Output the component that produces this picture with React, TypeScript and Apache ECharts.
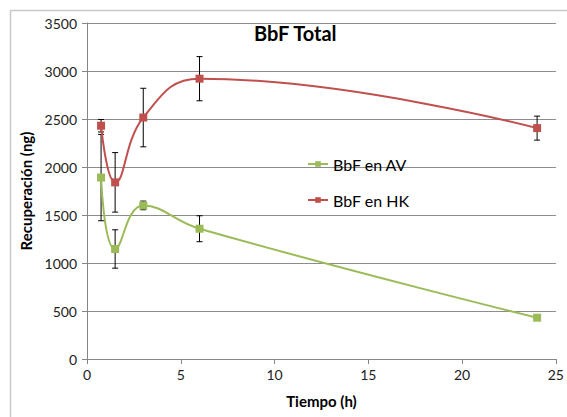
import { useEffect, useRef } from "react";
import * as echarts from "echarts";

// Sampling times (h) and recovered BbF (ng) with their standard deviations
const tiempo = [0.75, 1.5, 3, 6, 24];
const bbfAV = [1890, 1146, 1600, 1357, 430];
const errAV = [450, 200, 45, 135, 0];
const bbfHK = [2430, 1840, 2515, 2920, 2405];
const errHK = [65, 310, 305, 230, 125];

const xTicks = { min: 0, max: 25, interval: 5 };
const yTicks = { min: 0, max: 3500, interval: 500 };

const FONT = "Lato, 'Noto Sans', sans-serif";
const GREEN = "#9BBB59";
const RED = "#C0504D";

function errorData(vals: number[], errs: number[]) {
  return tiempo
    .map((t, i) => [t, vals[i] - errs[i], vals[i] + errs[i]])
    .filter((_, i) => errs[i] > 0);
}

function renderErrorBar(_params: any, api: any) {
  const x = api.value(0);
  const top = api.coord([x, api.value(2)]);
  const bot = api.coord([x, api.value(1)]);
  const w = 3;
  const style = { stroke: "#000", lineWidth: 1 };
  return {
    type: "group",
    children: [
      { type: "line", shape: { x1: top[0], y1: top[1], x2: bot[0], y2: bot[1] }, style },
      { type: "line", shape: { x1: top[0] - w, y1: top[1], x2: top[0] + w, y2: top[1] }, style },
      { type: "line", shape: { x1: bot[0] - w, y1: bot[1], x2: bot[0] + w, y2: bot[1] }, style },
    ],
  };
}

export default function App() {
  const ref = useRef<HTMLDivElement>(null);

  useEffect(() => {
    document.body.style.margin = "0";
    if (!ref.current) return;
    const chart = echarts.init(ref.current, undefined, { renderer: "svg" });
    chart.setOption({
      animation: false,
      backgroundColor: "#fff",
      textStyle: { fontFamily: FONT },
      title: {
        text: "BbF Total",
        left: 249,
        top: 18,
        textStyle: { fontFamily: FONT, fontSize: 20, fontWeight: "bold", color: "#000" },
      },
      legend: {
        orient: "vertical",
        left: 302,
        top: 151,
        itemGap: 20,
        itemWidth: 20,
        itemHeight: 7,
        data: ["BbF en AV", "BbF en HK"],
        textStyle: { fontFamily: FONT, fontSize: 16, color: "#000" },
      },
      graphic: [
        {
          type: "rect",
          shape: { x: 10.5, y: 10.5, width: 700, height: 600 },
          style: { fill: "none", stroke: "#c8c8c8", lineWidth: 1.5 },
          silent: true,
          z: -1,
        },
      ],
      grid: { left: 87, right: 11, top: 23, bottom: 58 },
      xAxis: {
        type: "value",
        ...xTicks,
        name: "Tiempo (h)",
        nameLocation: "middle",
        nameGap: 34,
        nameTextStyle: { fontFamily: FONT, fontSize: 15, fontWeight: "bold", color: "#000" },
        axisLine: { show: true, lineStyle: { color: "#868686" } },
        axisTick: { show: true, length: 5, lineStyle: { color: "#868686" } },
        axisLabel: { fontFamily: FONT, fontSize: 14, color: "#222", margin: 8 },
        splitLine: { show: false },
      },
      yAxis: {
        type: "value",
        ...yTicks,
        name: "Recuperación (ng)",
        nameLocation: "middle",
        nameGap: 38,
        nameRotate: 90,
        nameTextStyle: { fontFamily: FONT, fontSize: 15, fontWeight: "bold", color: "#000" },
        axisLine: { show: true, lineStyle: { color: "#868686" } },
        axisTick: { show: true, length: 5, lineStyle: { color: "#868686" } },
        axisLabel: {
          fontFamily: FONT,
          fontSize: 14,
          color: "#222",
          margin: 10,
          formatter: (v: number) => String(v),
        },
        splitLine: { show: true, lineStyle: { color: "#8c8c8c", width: 1 } },
      },
      series: [
        {
          type: "custom",
          name: "errAV",
          renderItem: renderErrorBar,
          data: errorData(bbfAV, errAV),
          z: 1,
          silent: true,
        },
        {
          type: "custom",
          name: "errHK",
          renderItem: renderErrorBar,
          data: errorData(bbfHK, errHK),
          z: 1,
          silent: true,
        },
        {
          type: "line",
          name: "BbF en AV",
          data: tiempo.map((t, i) => [t, bbfAV[i]]),
          smooth: 0.45,
          symbol: "rect",
          symbolSize: 8,
          itemStyle: { color: GREEN },
          lineStyle: { color: GREEN, width: 2 },
          z: 3,
        },
        {
          type: "line",
          name: "BbF en HK",
          data: tiempo.map((t, i) => [t, bbfHK[i]]),
          smooth: 0.45,
          symbol: "rect",
          symbolSize: 8,
          itemStyle: { color: RED },
          lineStyle: { color: RED, width: 2 },
          z: 3,
        },
      ],
    });
    return () => chart.dispose();
  }, []);

  return <div ref={ref} style={{ width: 567, height: 417 }} />;
}
